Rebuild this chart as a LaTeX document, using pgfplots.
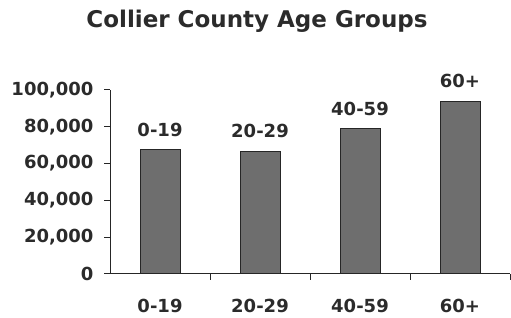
\documentclass[border=0pt]{standalone}
\usepackage{fontspec}
\setmainfont{DejaVu Sans}
\usepackage{pgfplots}
\pgfplotsset{compat=1.18}
\definecolor{txt}{HTML}{2B2B2B}
\definecolor{barfill}{HTML}{6E6E6E}
\definecolor{baredge}{HTML}{262626}
\newcommand\F{\fontsize{18}{20}\selectfont\bfseries}
\newcommand\T{\fontsize{23}{26}\selectfont\bfseries}
\begin{document}
\begin{tikzpicture}
\path[use as bounding box] (0pt,0pt) rectangle (511pt,318pt);
\begin{axis}[
  at={(110pt,44pt)}, anchor=south west,
  scale only axis, width=400pt, height=184pt,
  xmin=-0.5, xmax=3.5, ymin=0, ymax=100000,
  axis lines=left,
  axis line style={-, baredge, line width=1pt},
  every tick/.style={baredge, line width=1pt},
  tick align=outside,
  xtick={0,1,2,3},
  xticklabels={0-19,20-29,40-59,60+},
  major x tick style={draw=none},
  minor xtick={0.5,1.5,2.5,3.5},
  minor tick length=6pt,
  major tick length=6pt,
  ytick={0,20000,40000,60000,80000,100000},
  scaled y ticks=false,
  tick label style={font=\F, text=txt},
  yticklabel style={xshift=-7pt, /pgf/number format/.cd, fixed, 1000 sep={,}, assume math mode=true},
  xticklabel style={yshift=-16pt},
  title={Collier County Age Groups},
  title style={font=\T, text=txt, at={(rel axis cs:0.3675,1.305)}, anchor=base},
]
\addplot[ybar, bar width=40pt, fill=barfill, draw=baredge, line width=1pt,
  nodes near coords, point meta=explicit symbolic,
  nodes near coords style={font=\F, text=txt, anchor=south, yshift=9pt}]
  coordinates {(0,67800)[0-19] (1,66800)[20-29] (2,79200)[40-59] (3,94000)[60+]};
\end{axis}
\end{tikzpicture}
\end{document}
